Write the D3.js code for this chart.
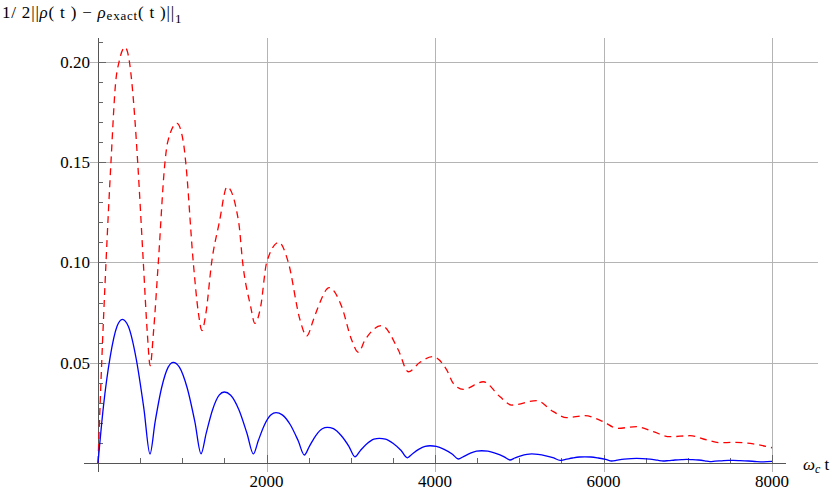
<!DOCTYPE html>
<html lang="en">

<head>
    <meta charset="utf-8">
    <title>Trace distance vs time</title>
    <style>
        body {
            margin: 0;
            background-color: white;
        }

        text {
            font-family: "Liberation Serif", "Times New Roman", "DejaVu Serif", serif;
        }

        .grid line {
            stroke: #b4b4b4;
            stroke-width: 1px;
            shape-rendering: crispEdges;
        }

        .axis-line {
            stroke: #555;
            stroke-width: 1px;
            shape-rendering: crispEdges;
        }

        .tick-mark {
            stroke: #666;
            stroke-width: 1px;
            shape-rendering: crispEdges;
        }

        .tick-label {
            font-size: 17px;
            fill: #000;
        }

        .line {
            fill: none;
            stroke-width: 1.3px;
        }
    </style>
</head>

<body>
    <script src="https://d3js.org/d3.v7.min.js"></script>
    <svg width="838" height="490"></svg>

    <script>
        // tick values
        var xMajorTicks = [2000, 4000, 6000, 8000];
        var xTickLabels = ["2000", "4000", "6000", "8000"];
        var yMajorTicks = [0.05, 0.10, 0.15, 0.20];
        var yTickLabels = ["0.05", "0.10", "0.15", "0.20"];

        // red dashed curve
        var redT = [0, 44, 95, 154, 210, 250, 321, 373, 401, 440, 471, 538, 585, 619, 660, 716, 795, 827, 937,
            1013, 1041, 1131, 1191, 1234, 1282, 1349, 1440, 1532, 1670, 1717, 1812, 1861, 1931, 2002, 2147,
            2259, 2398, 2477, 2556, 2615, 2745, 2892, 3011, 3090, 3169, 3367, 3565, 3683, 3822, 3972, 4139,
            4217, 4336, 4573, 4772, 4910, 5207, 5405, 5563, 5780, 5998, 6165, 6393, 6591, 6789, 7026, 7225,
            7383, 7541, 7778, 8000
        ];
        var redV = [0, 0.050, 0.100, 0.150, 0.190, 0.200, 0.2072, 0.200, 0.190, 0.170, 0.150, 0.100, 0.065, 0.0485, 0.066, 0.100, 0.150, 0.160, 0.1693,
            0.160, 0.150, 0.100, 0.075, 0.066, 0.075, 0.100, 0.120, 0.1377, 0.120, 0.100, 0.078, 0.0696, 0.078, 0.100, 0.110,
            0.100, 0.0713, 0.0633, 0.0713, 0.078, 0.0874, 0.078, 0.0613, 0.0552, 0.0613, 0.0685, 0.0563, 0.0455, 0.0502, 0.053, 0.0464,
            0.0397, 0.0367, 0.0405, 0.033, 0.0289, 0.0311, 0.0256, 0.0226, 0.0236, 0.0206, 0.0173, 0.0181, 0.0156, 0.0131, 0.0136, 0.0115,
            0.0101, 0.0103, 0.0095, 0.0076
        ];

        // blue solid curve
        var blueT = [0, 64, 145, 225, 289, 361, 453, 545, 617,
            678, 755, 833, 894, 966, 1058, 1150, 1223,
            1284, 1361, 1438, 1499, 1575, 1671, 1768, 1844,
            1903, 1978, 2054, 2113, 2187, 2281, 2375, 2449,
            2509, 2585, 2662, 2722, 2794, 2886, 2978, 3050,
            3114, 3195, 3275, 3339, 3412, 3505, 3598, 3671,
            3730, 3806, 3882, 3941, 4015, 4109, 4203, 4277,
            4338, 4415, 4493, 4554, 4628, 4722, 4816, 4890,
            4947, 5019, 5091, 5148, 5222, 5316, 5410, 5484,
            5549, 5632, 5715, 5780, 5850, 5938, 6027, 6097,
            6160, 6245, 6330, 6393, 6463, 6551, 6640, 6710,
            6771, 6849, 6927, 6988, 7049, 7126, 7203, 7264,
            7325, 7402, 7480, 7541, 7620, 7720, 7820, 7900, 8000
        ];
        var blueV = [0, 0.028, 0.053, 0.068, 0.0716, 0.068, 0.052, 0.027, 0.0045,
            0.0205, 0.0375, 0.0478, 0.0502, 0.0478, 0.0375, 0.0205, 0.0046,
            0.0148, 0.0267, 0.0338, 0.0354, 0.0338, 0.0267, 0.0148, 0.0045,
            0.0112, 0.0192, 0.024, 0.0251, 0.024, 0.0192, 0.0112, 0.004,
            0.0083, 0.0137, 0.0171, 0.0178, 0.0171, 0.0137, 0.0083, 0.0031,
            0.0062, 0.0097, 0.0119, 0.0123, 0.0119, 0.0097, 0.0062, 0.0026,
            0.0045, 0.0068, 0.0083, 0.0086, 0.0083, 0.0068, 0.0045, 0.002,
            0.0032, 0.0048, 0.0059, 0.0061, 0.0059, 0.0048, 0.0032, 0.0015,
            0.0025, 0.0036, 0.0043, 0.0045, 0.0043, 0.0036, 0.0025, 0.0013,
            0.0018, 0.0025, 0.003, 0.0031, 0.003, 0.0025, 0.0018, 0.001,
            0.0014, 0.0019, 0.0022, 0.0023, 0.0022, 0.0019, 0.0014, 0.001,
            0.0012, 0.0015, 0.0017, 0.0018, 0.0017, 0.0015, 0.0011, 0.0007,
            0.0009, 0.0011, 0.0013, 0.0013, 0.0012, 0.001, 0.0007, 0.0006, 0.0008
        ];

        var svg = d3.select("svg");

        // scales: origin at (98,463)
        var x = d3.scaleLinear().domain([0, 8000]).range([98, 772]);
        var y = d3.scaleLinear().domain([0, 0.21]).range([463, 463 - 0.21 * 2006]);

        var gridTop = 38,
            gridBottom = 472,
            gridLeft = 90,
            gridRight = 818;

        // gridlines
        var grid = svg.append("g").attr("class", "grid");
        grid.selectAll(".vgrid")
            .data(xMajorTicks)
            .enter().append("line")
            .attr("x1", function(d) { return Math.round(x(d)) + 0.5; })
            .attr("x2", function(d) { return Math.round(x(d)) + 0.5; })
            .attr("y1", gridTop)
            .attr("y2", gridBottom);
        grid.selectAll(".hgrid")
            .data(yMajorTicks)
            .enter().append("line")
            .attr("x1", gridLeft)
            .attr("x2", gridRight)
            .attr("y1", function(d) { return Math.round(y(d)) + 0.5; })
            .attr("y2", function(d) { return Math.round(y(d)) + 0.5; });

        // axis lines
        svg.append("line").attr("class", "axis-line")
            .attr("x1", 84).attr("x2", 786)
            .attr("y1", y(0) + 0.5).attr("y2", y(0) + 0.5);
        svg.append("line").attr("class", "axis-line")
            .attr("x1", x(0) + 0.5).attr("x2", x(0) + 0.5)
            .attr("y1", gridTop).attr("y2", gridBottom);

        // x ticks, pointing up
        var xMinor = d3.range(500, 8001, 500);
        svg.selectAll(".xtick")
            .data(xMinor)
            .enter().append("line")
            .attr("class", "tick-mark")
            .attr("x1", function(d) { return Math.round(x(d)) + 0.5; })
            .attr("x2", function(d) { return Math.round(x(d)) + 0.5; })
            .attr("y1", y(0))
            .attr("y2", function(d) { return d % 2000 === 0 ? y(0) - 8 : y(0) - 5; });

        // y ticks, pointing right
        var yMinor = d3.range(1, 22).map(function(i) { return i / 100; });
        svg.selectAll(".ytick")
            .data(yMinor)
            .enter().append("line")
            .attr("class", "tick-mark")
            .attr("x1", x(0))
            .attr("x2", function(d, i) { return (i + 1) % 5 === 0 ? x(0) + 8 : x(0) + 5; })
            .attr("y1", function(d) { return Math.round(y(d)) + 0.5; })
            .attr("y2", function(d) { return Math.round(y(d)) + 0.5; });

        // tick labels
        svg.selectAll(".xlabel")
            .data(xMajorTicks)
            .enter().append("text")
            .attr("class", "tick-label")
            .attr("x", function(d) { return x(d); })
            .attr("y", 487)
            .attr("text-anchor", "middle")
            .text(function(d, i) { return xTickLabels[i]; });
        svg.selectAll(".ylabel")
            .data(yMajorTicks)
            .enter().append("text")
            .attr("class", "tick-label")
            .attr("x", 90)
            .attr("y", function(d) { return y(d) + 6; })
            .attr("text-anchor", "end")
            .text(function(d, i) { return yTickLabels[i]; });

        // curves
        var line = d3.line()
            .x(function(d) { return x(d[0]); })
            .y(function(d) { return y(d[1]); })
            .curve(d3.curveMonotoneX);

        svg.append("path")
            .datum(redT.map(function(t, i) { return [t, redV[i]]; }))
            .attr("class", "line")
            .attr("stroke", "#ff0000")
            .attr("stroke-dasharray", "7,5")
            .attr("d", line);

        svg.append("path")
            .datum(blueT.map(function(t, i) { return [t, blueV[i]]; }))
            .attr("class", "line")
            .attr("stroke", "#0000ff")
            .attr("d", line);

        // y axis title
        var title = svg.append("text")
            .attr("x", 2)
            .attr("y", 18)
            .style("font-size", "17px")
            .style("letter-spacing", "0.8px")
            .attr("xml:space", "preserve");
        title.append("tspan").text("1/ 2||");
        title.append("tspan").style("font-style", "italic").text("\u03c1");
        title.append("tspan").text("( t ) \u2212 ");
        title.append("tspan").style("font-style", "italic").text("\u03c1");
        title.append("tspan").attr("dy", 2).style("font-size", "13px").text("exact");
        title.append("tspan").attr("dy", -2).text("( t )||");
        title.append("tspan").attr("dy", 5).style("font-size", "13px").text("1");

        // x axis title
        var xt = svg.append("text")
            .attr("x", 803)
            .attr("y", 470)
            .style("font-size", "17px");
        xt.append("tspan").style("font-style", "italic").text("\u03c9");
        xt.append("tspan").attr("dy", 3).style("font-style", "italic").style("font-size", "12px").text("c");
        xt.append("tspan").attr("dy", -3).text(" t");
    </script>
</body>

</html>
